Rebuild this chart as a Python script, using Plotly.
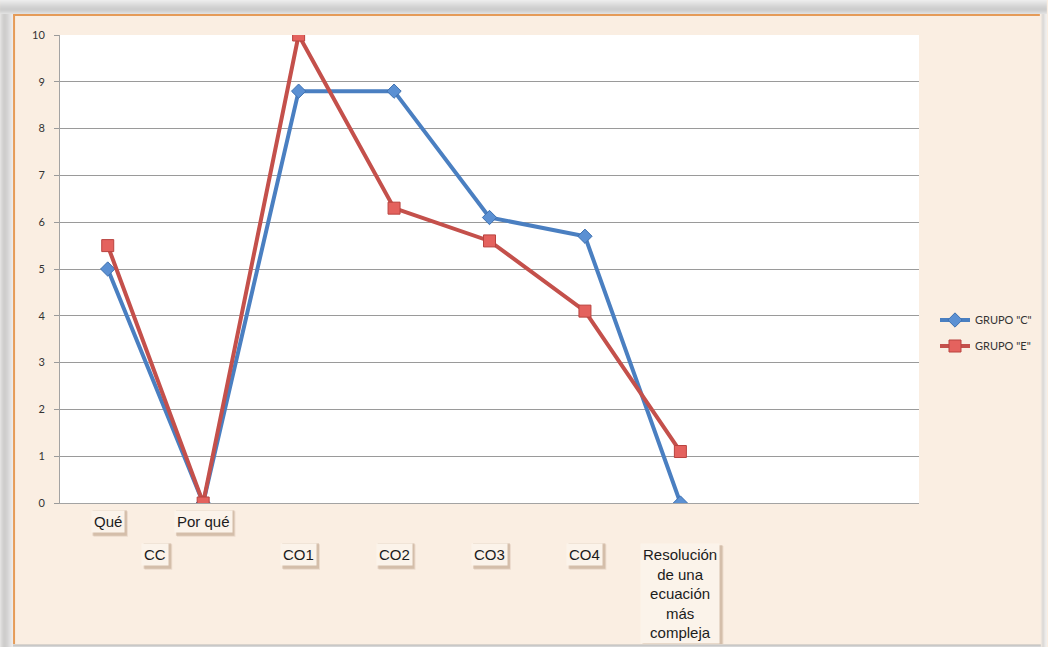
import plotly.graph_objects as go

# Category slots on the x axis (two trailing slots are left empty)
categories = ["Qué", "Por qué", "CO1", "CO2", "CO3", "CO4",
              "Resolución de una ecuación más compleja", "_e1", "_e2"]
point_categories = categories[:7]

# Scores per group
grupo_c = [5.0, 0.0, 8.8, 8.8, 6.1, 5.7, 0.0]
grupo_e = [5.5, 0.0, 10.0, 6.3, 5.6, 4.1, 1.1]

# Category captions: (text, x position on the axis)
upper_labels = [("Qué", 0), ("Por qué", 1)]
lower_labels = [("CC", 0.5), ("CO1", 2), ("CO2", 3), ("CO3", 4), ("CO4", 5)]
long_label = ("Resolución<br>de una<br>ecuación<br>más<br>compleja", 6)

y_ticks = list(range(0, 11))

W, H = 1048, 647
L, R, T, B = 60, 920, 35, 503  # plot area in pixels
FONT_PX = 15
PAD = 2

# Arial/Liberation Sans advance widths (per 1000 em) for caption glyphs
GLYPH_W = {"Q": 778, "u": 556, "é": 556, "P": 667, "o": 556, "r": 333, " ": 278,
           "q": 556, "C": 722, "O": 778, "1": 556, "2": 556, "3": 556, "4": 556,
           "R": 722, "e": 556, "s": 500, "l": 222, "c": 500, "i": 222, "ó": 556,
           "n": 556, "d": 556, "a": 556, "m": 833, "á": 556, "p": 556, "j": 222}


def px(p):
    return (p - L) / (R - L)


def py(q):
    return (B - q) / (B - T)


def cat_px(i):
    return L + (i + 0.5) * (R - L) / len(categories)


def text_box(text):
    lines = text.split("<br>")
    w = max(sum(GLYPH_W.get(ch, 556) for ch in ln) for ln in lines) * FONT_PX / 1000
    h = len(lines) * FONT_PX * 1.3
    return w + 2 * (PAD + 1), h + 2 * (PAD + 1)


fig = go.Figure()

fig.add_trace(go.Scatter(
    x=point_categories, y=grupo_c, name='GRUPO "C"', mode="lines+markers",
    legendgroup="c",
    line=dict(color="#4a7fc1", width=4),
    marker=dict(symbol="diamond", size=11, color="#5b90d3",
                line=dict(color="#3f71b0", width=1)),
))
fig.add_trace(go.Scatter(
    x=point_categories, y=grupo_e, name='GRUPO "E"', mode="lines+markers",
    legendgroup="e",
    line=dict(color="#c4504b", width=4),
    marker=dict(symbol="square", size=12, color="#e4625e",
                line=dict(color="#b9433f", width=1)),
))


def band(x0, x1, y0, y1, color, layer="above"):
    return dict(type="rect", xref="paper", yref="paper",
                x0=px(x0), x1=px(x1), y0=py(y0), y1=py(y1),
                line=dict(width=0), fillcolor=color, layer=layer)


shapes = []
# grey surround outside the cream panel, darker toward the panel edge
top_greys = ["#ececec", "#e8e8e8", "#e4e4e4", "#e0e0e0", "#dcdcdc", "#d8d8d8",
             "#d4d4d4", "#d1d1d1", "#cecece", "#cdcdcd", "#cfcfcf", "#d4d4d4",
             "#dadada", "#e0e0e0"]
for i, c in enumerate(top_greys):
    shapes.append(band(0, W, i, i + 1, c))
left_greys = ["#e2e2e2", "#d9d9d9", "#d2d2d2", "#cdcdcd", "#cbcbcb", "#cccccc",
              "#cfcfcf", "#d3d3d3", "#d8d8d8", "#dddddd", "#e2e2e2", "#e7e7e7",
              "#ebebeb"]
for i, c in enumerate(left_greys):
    shapes.append(band(i, i + 1, 14, H, c))
for i, c in enumerate(["#ede6df", "#dedbd8", "#d6d6d6", "#e0e0e0", "#e8e8e8", "#eeeeee"]):
    shapes.append(band(1042 + i, 1043 + i, 14, H, c))
for i, c in enumerate(["#d9d3cc", "#c8c8c8", "#d6d6d6"]):
    shapes.append(band(13, 1042, 644 + i, 645 + i, c))
# orange frame edges (top and left)
shapes.append(dict(type="line", xref="paper", yref="paper",
                   x0=px(13), x1=px(1041), y0=py(15), y1=py(15),
                   line=dict(color="#e59b58", width=2), layer="above"))
shapes.append(dict(type="line", xref="paper", yref="paper",
                   x0=px(14), x1=px(14), y0=py(15), y1=py(644),
                   line=dict(color="#e59b58", width=2), layer="above"))

annotations = []


def add_label(text, x, yshift, yanchor="middle"):
    w, h = text_box(text)
    cx = cat_px(x)
    top = B - yshift - (h / 2 if yanchor == "middle" else 0)
    # soft drop shadow behind the caption box
    for d, a in [(3, 0.12), (2, 0.22)]:
        shapes.append(band(cx - w / 2 + d, cx + w / 2 + d, top + d, top + h + d,
                           f"rgba(130,85,50,{a})", layer="below"))
    annotations.append(dict(
        x=x, y=0, xref="x", yref="paper", text=text, showarrow=False,
        yanchor=yanchor, yshift=yshift,
        font=dict(family="Liberation Sans, Arial, sans-serif", size=FONT_PX,
                  color="#1c1c1c"),
        bgcolor="#fbf3ea", borderpad=PAD,
    ))


for t, x in upper_labels:
    add_label(t, x, -18)
for t, x in lower_labels:
    add_label(t, x, -51)
add_label(long_label[0], long_label[1], -40, yanchor="top")

fig.update_layout(
    width=W, height=H,
    margin=dict(l=L, r=W - R, t=T, b=H - B, pad=0),
    paper_bgcolor="#faeee2",
    plot_bgcolor="#ffffff",
    showlegend=True,
    legend=dict(x=px(935), y=py(333), xanchor="left", yanchor="middle",
                bgcolor="rgba(0,0,0,0)", tracegroupgap=7,
                font=dict(family="Lato, Open Sans, sans-serif", size=11, color="#333333")),
    shapes=shapes,
    annotations=annotations,
    xaxis=dict(type="category", categoryorder="array", categoryarray=categories,
               range=[-0.5, 8.5], showticklabels=False, showgrid=False,
               showline=True, linecolor="#a3a3a3", linewidth=1, ticks="",
               zeroline=False, fixedrange=True),
    yaxis=dict(range=[0, 10], tickvals=y_ticks, showgrid=True,
               gridcolor="#9a9a9a", gridwidth=1, showline=True,
               linecolor="#a3a3a3", linewidth=1, ticks="outside", ticklen=5,
               tickcolor="#9a9a9a", zeroline=False, ticklabelstandoff=7,
               tickfont=dict(family="Lato, Open Sans, sans-serif", size=11, color="#333333")),
)

fig.write_html("out.html")
